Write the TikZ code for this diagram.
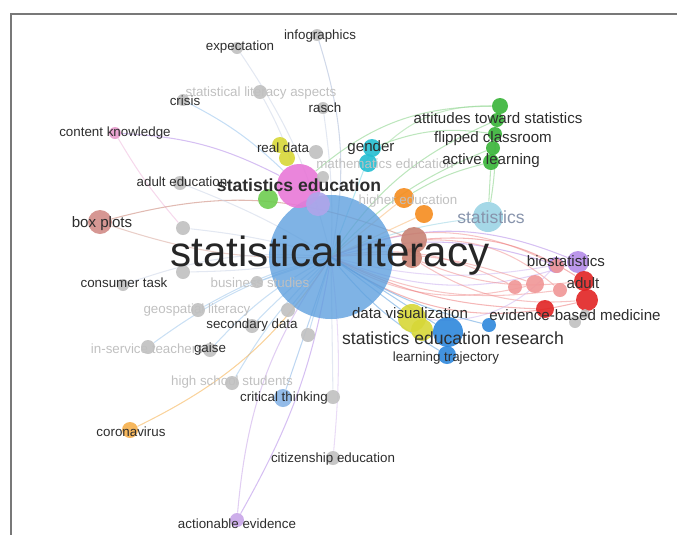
\documentclass[tikz,border=0pt]{standalone}
\usepackage{fontspec}
\setmainfont{Liberation Sans}
\usetikzlibrary{backgrounds}
\definecolor{txt}{RGB}{45,45,45}
\definecolor{fade}{RGB}{192,192,192}
\definecolor{cLit}{RGB}{95,160,222}
\definecolor{cMag}{RGB}{232,120,215}
\definecolor{cLav}{RGB}{175,165,235}
\definecolor{cLgr}{RGB}{110,205,80}
\definecolor{cYel}{RGB}{215,215,55}
\definecolor{cCya}{RGB}{35,190,210}
\definecolor{cGrn}{RGB}{55,180,55}
\definecolor{cOra}{RGB}{245,140,30}
\definecolor{cBrn}{RGB}{200,130,115}
\definecolor{cSta}{RGB}{155,212,228}
\definecolor{cPur}{RGB}{180,140,232}
\definecolor{cRed}{RGB}{225,35,35}
\definecolor{cSal}{RGB}{240,150,150}
\definecolor{cGry}{RGB}{192,192,192}
\definecolor{cBlu}{RGB}{45,135,220}
\definecolor{cLbl}{RGB}{135,180,230}
\definecolor{cBox}{RGB}{210,140,135}
\definecolor{cPnk}{RGB}{232,155,205}
\definecolor{cCor}{RGB}{245,175,75}
\definecolor{cAct}{RGB}{200,165,232}
\definecolor{cEdg}{RGB}{170,185,215}
\definecolor{frm}{RGB}{120,120,120}
\begin{document}
\begin{tikzpicture}[
    x=0.02cm, y=-0.02cm,
    kw/.style={circle, inner sep=0pt, minimum size=#1*0.02cm, fill opacity=0.9},
    lb/.style={inner sep=0pt, text=txt, font=\fontsize{7.6}{9}\selectfont},
    lbm/.style={inner sep=0pt, text=txt, font=\fontsize{8.6}{10}\selectfont},
    lbb/.style={inner sep=0pt, text=txt, font=\fontsize{10}{12}\selectfont},
    fd/.style={lb, text=fade},
    ln/.style={line width=0.6pt, draw opacity=0.55}
]
\useasboundingbox (0,0) rectangle (677,535);
\draw[frm, line width=0.9pt] (677,14) -- (11,14) -- (11,535);

% circles
\node[kw=124, fill=cLit, fill opacity=0.8] (lit) at (331,257) {};
\node[kw=44, fill=cMag] (sted) at (299,186) {};
\node[kw=24, fill=cLav] (lav) at (318,204) {};
\node[kw=20, fill=cLgr] (grA) at (268,199) {};
\node[kw=16, fill=cYel] (rd1) at (280,145) {};
\node[kw=16, fill=cYel] (rd2) at (287,158) {};
\node[kw=14, fill=cGry] (gRd) at (316,152) {};
\node[kw=12, fill=cGry] (gMe) at (323,177) {};
\node[kw=18, fill=cCya] (gen1) at (372,148) {};
\node[kw=18, fill=cCya] (gen2) at (368,163) {};
\node[kw=20, fill=cOra] (or1) at (404,198) {};
\node[kw=18, fill=cOra] (or2) at (424,214) {};
\node[kw=26, fill=cBrn] (br1) at (414,240) {};
\node[kw=20, fill=cBrn] (br2) at (412,258) {};
\node[kw=30, fill=cSta] (st) at (488,217) {};
\node[kw=16, fill=cGrn] (gr1) at (500,106) {};
\node[kw=14, fill=cGrn] (gr2) at (497,120) {};
\node[kw=14, fill=cGrn] (gr3) at (495,134) {};
\node[kw=14, fill=cGrn] (gr4) at (493,148) {};
\node[kw=16, fill=cGrn] (gr5) at (491,162) {};
\node[kw=16, fill=cPur] (bio2) at (556,265) {};
\node[kw=22, fill=cPur] (bio) at (578,262) {};
\node[kw=14, fill=cSal] (sal1) at (515,287) {};
\node[kw=18, fill=cSal] (sal2) at (535,284) {};
\node[kw=14, fill=cSal] (sal3) at (557,266) {};
\node[kw=14, fill=cSal] (sal4) at (560,290) {};
\node[kw=20, fill=cRed] (red1) at (584,281) {};
\node[kw=22, fill=cRed] (red2) at (587,300) {};
\node[kw=18, fill=cRed] (red3) at (545,309) {};
\node[kw=12, fill=cGry] (gEbm) at (575,322) {};
\node[kw=10, fill=cGry] (gEbm2) at (585,314) {};
\node[kw=28, fill=cYel] (dv1) at (412,318) {};
\node[kw=22, fill=cYel] (dv2) at (422,330) {};
\node[kw=30, fill=cBlu] (ser1) at (448,332) {};
\node[kw=18, fill=cBlu] (ser2) at (447,355) {};
\node[kw=14, fill=cBlu] (ser3) at (489,325) {};
\node[kw=18, fill=cLbl] (crit) at (283,398) {};
\node[kw=14, fill=cGry] (gCrit) at (333,397) {};
\node[kw=14, fill=cGry] (gSd) at (252,326) {};
\node[kw=14, fill=cGry] (gSd2) at (308,335) {};
\node[kw=14, fill=cGry] (gSd3) at (288,310) {};
\node[kw=14, fill=cGry] (gGa) at (210,350) {};
\node[kw=14, fill=cGry] (gIst) at (148,347) {};
\node[kw=14, fill=cGry] (gGeo) at (198,310) {};
\node[kw=12, fill=cGry] (gBs) at (257,282) {};
\node[kw=12, fill=cGry] (gCt) at (123,285) {};
\node[kw=14, fill=cGry] (gHs) at (232,383) {};
\node[kw=14, fill=cGry] (gEmb) at (183,228) {};
\node[kw=14, fill=cGry] (gDia) at (183,272) {};
\node[kw=14, fill=cGry] (gAe) at (180,183) {};
\node[kw=12, fill=cGry] (gCri) at (183,100) {};
\node[kw=14, fill=cGry] (gSla) at (260,92) {};
\node[kw=12, fill=cGry] (gRas) at (323,108) {};
\node[kw=12, fill=cGry] (gExp) at (237,48) {};
\node[kw=12, fill=cGry] (gInf) at (317,35) {};
\node[kw=12, fill=cPnk] (ck) at (115,133) {};
\node[kw=24, fill=cBox] (bp) at (100,222) {};
\node[kw=16, fill=cCor] (cor) at (130,430) {};
\node[kw=14, fill=cGry] (gCit) at (333,458) {};
\node[kw=14, fill=cAct] (act) at (237,520) {};

% links
\begin{scope}[on background layer]
\draw[ln, cEdg] (gInf) to[bend left=14] (lit.center);
\draw[ln, cEdg!60] (gExp) to[bend left=10] (lit.center);
\draw[ln, cEdg!60] (gRas) to[bend left=5] (lit.center);
\draw[ln, cEdg!60] (gSla) to[bend left=5] (sted);
\draw[ln, cBlu!50] (gCri) to[bend left=8] (sted);
\draw[ln, cPur] (ck) to[bend left=12] (sted);
\draw[ln, cPnk!70] (ck) to[bend right=5] (gEmb);
\draw[ln, cBrn] (bp) to[bend left=18] (br1);
\draw[ln, cBrn!70] (bp) to[bend right=10] (lit.center);
\draw[ln, cEdg!60] (gAe) to[bend left=5] (lit.center);
\draw[ln, cEdg!60] (gEmb) to[bend left=5] (lit.center);
\draw[ln, cEdg!60] (gCt) to[bend left=12] (lit.center);
\draw[ln, cEdg!60] (gDia) to[bend right=5] (lit.center);
\draw[ln, cLit!60] (gBs) to (lit.center);
\draw[ln, cLit!60] (gGeo) to[bend left=8] (lit.center);
\draw[ln, cLit!60] (gSd) to[bend left=5] (lit.center);
\draw[ln, cLit!60] (gGa) to[bend left=10] (lit.center);
\draw[ln, cLit!60] (gIst) to[bend left=10] (lit.center);
\draw[ln, cLit!60] (gHs) to[bend left=8] (lit.center);
\draw[ln, cLit!60] (gSd2) to (lit.center);
\draw[ln, cLit!60] (gSd3) to (lit.center);
\draw[ln, cCor] (cor) to[bend right=15] (lit.center);
\draw[ln, cAct] (act) to[bend left=15] (lit.center);
\draw[ln, cPur] (act) to[bend right=10] (lit.center);
\draw[ln, cAct!70] (gCit) to[bend right=6] (lit.center);
\draw[ln, cLbl] (crit) to (lit.center);
\draw[ln, cEdg!60] (gCrit) to (lit.center);
\draw[ln, cGrn!60] (gr1) to[bend right=20] (sted);
\draw[ln, cGrn!60] (gr2) to[bend right=16] (lit.center);
\draw[ln, cGrn!60] (gr3) to[bend right=14] (gen1);
\draw[ln, cGrn!60] (gr4) to[bend right=12] (lit.center);
\draw[ln, cGrn!60] (gr5) to[bend right=8] (or1);
\draw[ln, cGrn!60] (gr5) to (st);
\draw[ln, cGrn!60] (gr3) to[bend left=5] (st);
\draw[ln, cGrn!50] (gr1) to[bend right=24] (gen2);
\draw[ln, cCya!60] (gen1) to (lit.center);
\draw[ln, cOra!60] (or1) to (lit.center);
\draw[ln, cOra!60] (or2) to (lit.center);
\draw[ln, cSta] (st) to[bend right=8] (lit.center);
\draw[ln, cPur] (bio) to[bend right=22] (lit.center);
\draw[ln, cPur] (bio2) to[bend right=16] (lit.center);
\draw[ln, cPur!70] (bio) to[bend left=20] (lit.center);
\draw[ln, cPur!60] (bio2) to[bend left=12] (lit.center);
\draw[ln, cSal] (sal1) to[bend right=18] (lit.center);
\draw[ln, cSal] (sal2) to[bend left=22] (lit.center);
\draw[ln, cSal] (sal2) to[bend right=12] (lit.center);
\draw[ln, cSal] (sal3) to[bend right=25] (lit.center);
\draw[ln, cSal] (sal4) to[bend left=16] (lit.center);
\draw[ln, cSal] (sal4) to[bend right=20] (br1);
\draw[ln, cRed!60] (red1) to[bend right=18] (br1);
\draw[ln, cRed!60] (red2) to[bend left=24] (lit.center);
\draw[ln, cRed!60] (red3) to[bend left=12] (lit.center);
\draw[ln, cRed!50] (red1) to[bend left=14] (br2);
\draw[ln, cRed!50] (red2) to[bend left=18] (br2);
\draw[ln, cPur!60] (bio2) to[bend left=26] (dv1);
\draw[ln, cLit] (dv1) to (lit.center);
\draw[ln, cLit] (ser1) to (lit.center);
\draw[ln, cLit] (ser2) to[bend left=10] (lit.center);
\draw[ln, cLit] (ser3) to[bend left=10] (lit.center);
\end{scope}

% labels
\node[lb] (tInf) at (320,36) {infographics};
\node[lb] (tExp) at (240,47) {expectation};
\node[fd] (tSla) at (261,93) {statistical literacy aspects};
\node[lb] (tCri) at (185,101) {crisis};
\node[lb] (tRas) at (325,108) {rasch};
\node[lb] (tCk) at (115,133) {content knowledge};
\node[lb] (tRd) at (283,148) {real data};
\node[lbm] (tGen) at (371,148) {gender};
\node[fd] (tMe) at (385,164) {mathematics education};
\node[lb] (tAe) at (182,182) {adult education};
\node[lbb] (tSted) at (299,185) {\bfseries statistics education};
\node[fd] (tHe) at (408,201) {higher education};
\node[lbm] (tAt) at (498,118) {attitudes toward statistics};
\node[lbm] (tFc) at (493,139) {flipped classroom};
\node[lbm] (tAl) at (491,161) {active learning};
\node[lbb, text=cEdg!80!black] (tSt) at (491,217) {statistics};
\node[lbm] (tBp) at (102,224) {box plots};
\node[inner sep=0pt, text=black!85, font=\fontsize{24}{28}\selectfont] (tLit) at (330,256) {statistical literacy};
\node[lbm] (tBio) at (566,261) {biostatistics};
\node[lbm, text=black!80] (tAd) at (583,283) {adult};
\node[lb] (tCt) at (124,283) {consumer task};
\node[fd] (tBs) at (260,283) {business studies};
\node[fd] (tGeo) at (197,310) {geospatial literacy};
\node[lbm] (tDv) at (410,313) {data visualization};
\node[lbm] (tEbm) at (575,315) {evidence-based medicine};
\node[lb] (tSd) at (252,325) {secondary data};
\node[lbb] (tSer) at (453,338) {statistics education research};
\node[fd] (tIst) at (147,349) {in-service teachers};
\node[lb] (tGa) at (210,349) {gaise};
\node[lb] (tLt) at (446,358) {learning trajectory};
\node[fd] (tHs) at (232,382) {high school students};
\node[lb] (tCrit) at (284,398) {critical thinking};
\node[lb] (tCor) at (131,432) {coronavirus};
\node[lb] (tCit) at (333,459) {citizenship education};
\node[lb] (tAct) at (237,524) {actionable evidence};
\end{tikzpicture}
\end{document}
